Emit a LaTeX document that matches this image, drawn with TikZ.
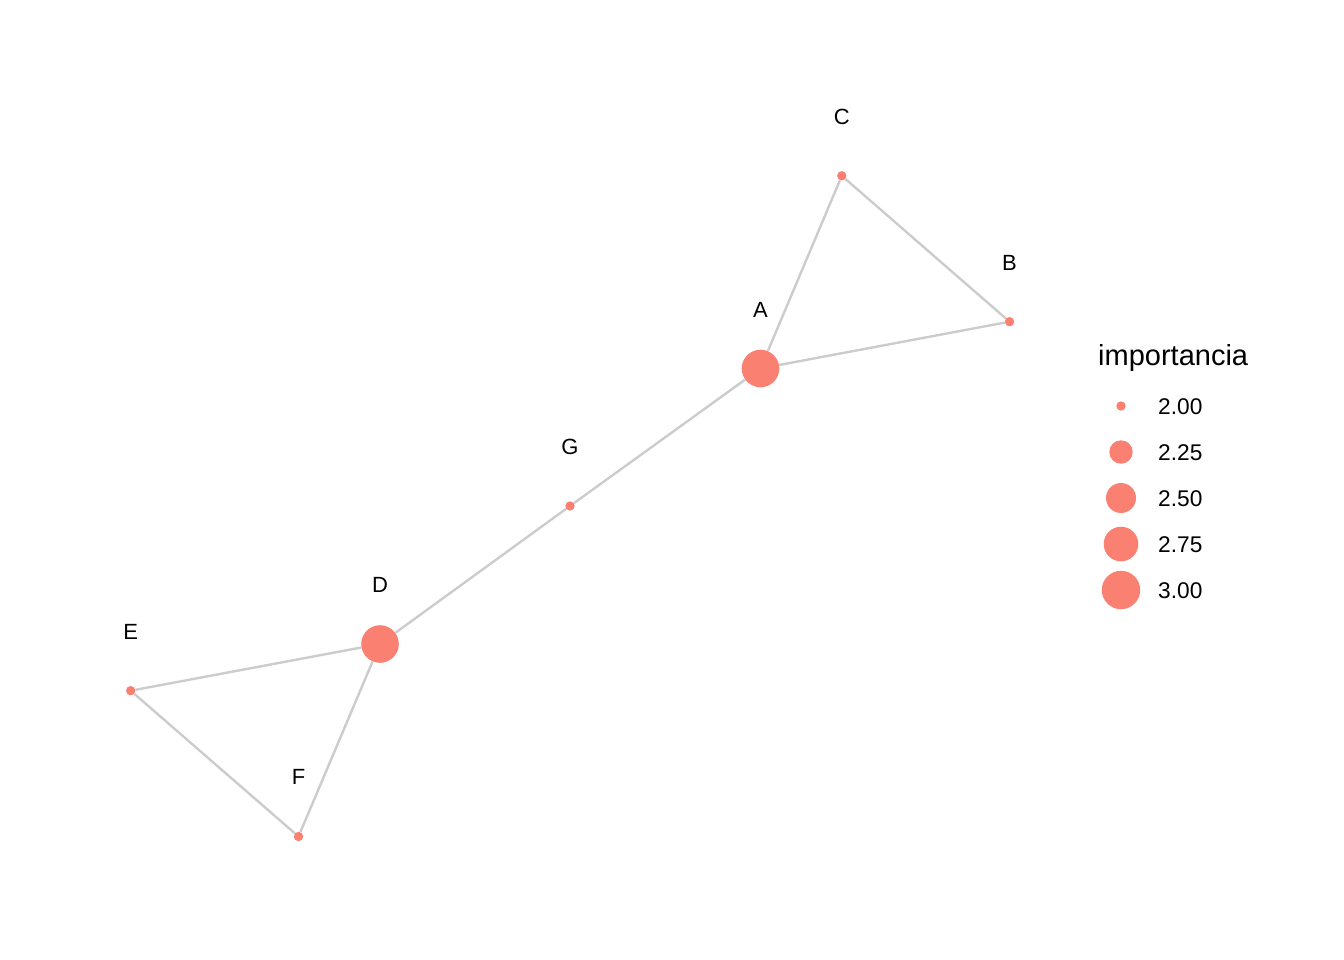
\documentclass[tikz,border=0pt]{standalone}
\usepackage{fontspec}
\setmainfont{Liberation Sans}
\definecolor{salmon}{HTML}{FA8072}
\definecolor{edgegray}{HTML}{CCCCCC}
\begin{document}
\begin{tikzpicture}[x=1pt,y=-1pt,
  vbig/.style={circle,fill=salmon,inner sep=0pt,minimum size=37.6pt},
  vsmall/.style={circle,fill=salmon,inner sep=0pt,minimum size=9.4pt},
  lab/.style={inner sep=0pt,font=\fontsize{22}{26}\selectfont},
  edge/.style={draw=edgegray,line width=2.4pt},
  legc/.style={circle,fill=salmon,inner sep=0pt},
  legt/.style={inner sep=0pt,anchor=base west,font=\fontsize{22.7}{26}\selectfont}]
\useasboundingbox (0,0) rectangle (1344,960);
% vertices
\node[vbig] (A) at (760.5,368.5) {};
\node[vsmall] (B) at (1009.5,321.7) {};
\node[vsmall] (C) at (841.8,175.8) {};
\node[vbig] (D) at (380,644) {};
\node[vsmall] (E) at (130.7,690.7) {};
\node[vsmall] (F) at (298.5,836.5) {};
\node[vsmall] (G) at (570,506) {};
% edges
\path[edge] (A) -- (B);
\path[edge] (A) -- (C);
\path[edge] (B) -- (C);
\path[edge] (A) -- (G);
\path[edge] (G) -- (D);
\path[edge] (D) -- (E);
\path[edge] (D) -- (F);
\path[edge] (E) -- (F);
% labels
\node[lab] (lA) at (760.5,310) {A};
\node[lab] (lB) at (1009.5,263) {B};
\node[lab] (lC) at (841.8,116.5) {C};
\node[lab] (lD) at (380,584.5) {D};
\node[lab] (lE) at (130.7,631.5) {E};
\node[lab] (lF) at (298.5,777.3) {F};
\node[lab] (lG) at (570,447) {G};
% legend
\node[inner sep=0pt,anchor=base west,font=\fontsize{29}{34}\selectfont] (title) at (1098,365) {importancia};
\node[legc,minimum size=9.4pt] (k1) at (1121,406) {};
\node[legc,minimum size=23.4pt] (k2) at (1121,452) {};
\node[legc,minimum size=30pt] (k3) at (1121,498) {};
\node[legc,minimum size=34.6pt] (k4) at (1121,544) {};
\node[legc,minimum size=38.4pt] (k5) at (1121,590) {};
\node[legt] (t1) at (1158,414) {2.00};
\node[legt] (t2) at (1158,460) {2.25};
\node[legt] (t3) at (1158,506.5) {2.50};
\node[legt] (t4) at (1158,552.3) {2.75};
\node[legt] (t5) at (1158,598.3) {3.00};
\end{tikzpicture}
\end{document}
